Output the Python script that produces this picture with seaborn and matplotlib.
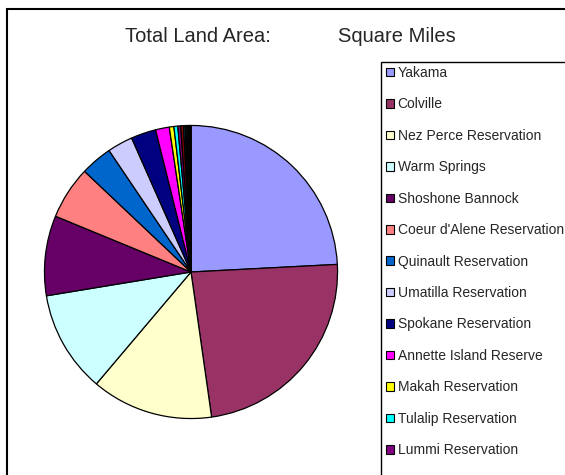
import seaborn as sns
import matplotlib.pyplot as plt
from matplotlib.patches import Rectangle

# reservations, land area in square miles
reservations = [
    "Yakama", "Colville", "Nez Perce Reservation", "Warm Springs",
    "Shoshone Bannock", "Coeur d'Alene Reservation", "Quinault Reservation",
    "Umatilla Reservation", "Spokane Reservation", "Annette Island Reserve",
    "Makah Reservation", "Tulalip Reservation", "Lummi Reservation",
    "Puyallup Reservation", "Swinomish Reservation", "Port Madison Reservation",
    "Skokomish Reservation", "Kalispel Reservation", "Chehalis Reservation",
    "Muckleshoot Reservation", "Nooksack Reservation", "Squaxin Island Reservation",
]
sq_miles = [2153, 2100, 1195, 1000, 785, 520, 312, 250, 245, 135,
            45, 38, 28, 28, 16, 14, 10, 8, 8, 7, 5, 4]
n_visible = 13  # the legend runs off the bottom after Lummi

# excel 2003 style fill colours
colors = ["#9999FF", "#993366", "#FFFFCC", "#CCFFFF", "#660066", "#FF8080",
          "#0066CC", "#CCCCFF", "#000080", "#FF00FF", "#FFFF00", "#00FFFF",
          "#800080", "#800000", "#008080", "#0000FF", "#00CCFF", "#CCFFFF",
          "#CCFFCC", "#FFFF99", "#99CCFF", "#FF99CC"]

sns.set_theme(style="white")
plt.rcParams['font.family'] = ['Liberation Sans', 'DejaVu Sans']

W, H = 565, 475
fig = plt.figure(figsize=(W / 100, H / 100), dpi=100)
fig.patch.set_facecolor("white")

# chart area border (runs off the right and bottom edges)
fig.patches.append(Rectangle((7 / W, -0.1), 1.2, (H - 8.5) / H + 0.1, transform=fig.transFigure,
                             fill=False, edgecolor="black", lw=1.5))

# pie
cx, cy, r = 191, 272, 148
ax = fig.add_axes([(cx - r) / W, (H - cy - r) / H, 2 * r / W, 2 * r / H])
wedges, _ = ax.pie(sq_miles, colors=sns.color_palette(colors), startangle=90, counterclock=False,
                   radius=1, wedgeprops=dict(edgecolor="black", linewidth=0.9))
ax.set_xlim(-1.01, 1.01)
ax.set_ylim(-1.01, 1.01)
ax.axis("off")

# title
fig.text(125 / W, 1 - 37 / H, "Total Land Area:", ha="left", va="center", fontsize=14.5)
fig.text(338 / W, 1 - 37 / H, "Square Miles", ha="left", va="center", fontsize=14.5)

# legend box, also cut off by the figure edge
fig.patches.append(Rectangle((381 / W, -0.1), 1.0, (H - 62) / H + 0.1, transform=fig.transFigure,
                             fill=False, edgecolor="black", lw=1.0))
leg = fig.legend(wedges[:n_visible], reservations[:n_visible], loc="upper left",
                 bbox_to_anchor=(386 / W, 1 - 66 / H), bbox_transform=fig.transFigure,
                 borderaxespad=0, borderpad=0, fontsize=10,
                 handlelength=0.58, handleheight=0.58, handletextpad=0.25, labelspacing=1.255,
                 frameon=False)
for h in leg.legend_handles:
    h.set_edgecolor("black")
    h.set_linewidth(0.8)

fig.savefig("out.png", dpi=100)
